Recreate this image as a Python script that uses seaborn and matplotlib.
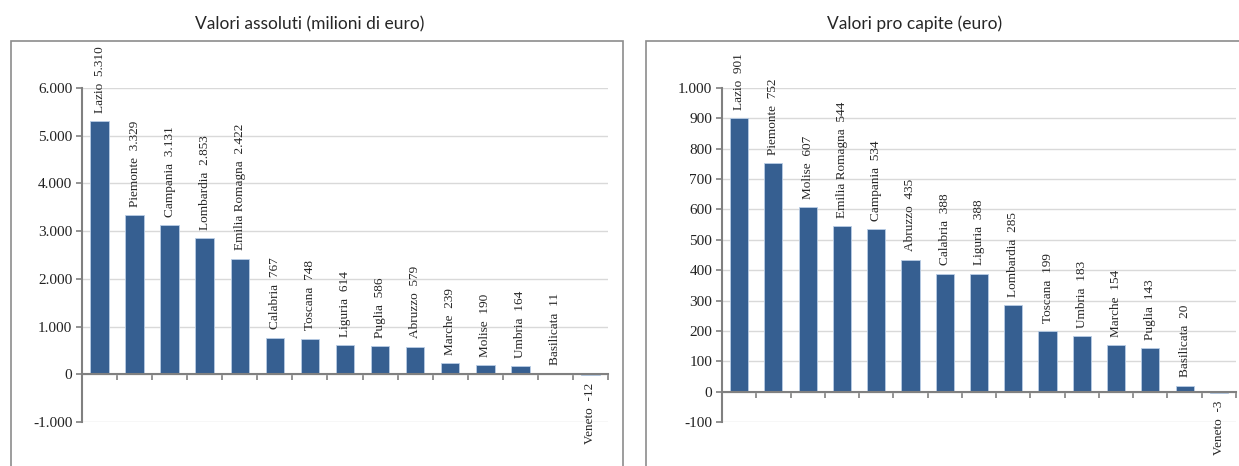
import numpy as np
import pandas as pd
import matplotlib.pyplot as plt
import seaborn as sns
from matplotlib.patches import Rectangle

sns.set_style("white")
plt.rcParams['font.family'] = ['Liberation Serif', 'DejaVu Serif']

# dati
regioni_abs = ['Lazio', 'Piemonte', 'Campania', 'Lombardia', 'Emilia Romagna', 'Calabria',
               'Toscana', 'Liguria', 'Puglia', 'Abruzzo', 'Marche', 'Molise', 'Umbria',
               'Basilicata', 'Veneto']
valori_abs = [5310, 3329, 3131, 2853, 2422, 767, 748, 614, 586, 579, 239, 190, 164, 11, -12]

regioni_pc = ['Lazio', 'Piemonte', 'Molise', 'Emilia Romagna', 'Campania', 'Abruzzo',
              'Calabria', 'Liguria', 'Lombardia', 'Toscana', 'Umbria', 'Marche', 'Puglia',
              'Basilicata', 'Veneto']
valori_pc = [901, 752, 607, 544, 534, 435, 388, 388, 285, 199, 183, 154, 143, 20, -3]

tick_abs = list(range(-1000, 6001, 1000))
tick_pc = list(range(-100, 1001, 100))

titoli = ['Valori assoluti (milioni di euro)', 'Valori pro capite (euro)']

blu = '#365F91'
grigio = '#808080'
serif = ['Liberation Serif', 'DejaVu Serif']


def fmt(v):
    return f"{v:,}".replace(',', '.')


fig = plt.figure(figsize=(12.39, 4.66), dpi=100)

# cornici dei due grafici (stile Excel)
for x0, x1 in [(11, 623), (646, 1260)]:
    fig.patches.append(Rectangle((x0 / 1239, -0.1), (x1 - x0) / 1239, 1.1 - 41 / 466,
                                 transform=fig.transFigure, fill=False,
                                 edgecolor='#8c8c8c', lw=1.2, clip_on=False))

ax1 = fig.add_axes([82 / 1239, 44 / 466, 526 / 1239, 334 / 466])
ax2 = fig.add_axes([722 / 1239, 44 / 466, 514 / 1239, 334 / 466])

pannelli = [(ax1, regioni_abs, valori_abs, tick_abs),
            (ax2, regioni_pc, valori_pc, tick_pc)]

for ax, regioni, valori, ticks in pannelli:
    df = pd.DataFrame({'regione': regioni, 'valore': valori})
    sns.barplot(data=df, x='regione', y='valore', color=blu, width=0.53,
                edgecolor='#b9cde5', linewidth=0.6, saturation=1, ax=ax, zorder=3)
    ax.set_ylim(ticks[0], ticks[-1])
    ax.set_xlim(-0.5, len(regioni) - 0.5)
    ax.set_yticks(ticks)
    ax.set_yticklabels([fmt(t) for t in ticks], fontsize=11, family=serif)
    ax.set_xticks(np.arange(-0.5, len(regioni), 1.0))
    ax.set_xticklabels([])
    ax.set_xlabel('')
    ax.set_ylabel('')
    ax.grid(axis='y', color='#d9d9d9', lw=1, zorder=0)
    for s in ['top', 'right']:
        ax.spines[s].set_visible(False)
    ax.spines['left'].set_color(grigio)
    ax.spines['left'].set_linewidth(1.5)
    ax.spines['bottom'].set_position(('data', 0))
    ax.spines['bottom'].set_color(grigio)
    ax.spines['bottom'].set_linewidth(1.5)
    ax.spines['bottom'].set_zorder(4)
    ax.tick_params(axis='y', direction='out', length=4, width=1.2, color=grigio, left=True, pad=3,
                   labelcolor='#222222')
    ax.tick_params(axis='x', direction='out', length=4, width=1.2, color=grigio, bottom=True)
    for i, (r, v) in enumerate(zip(regioni, valori)):
        if v >= 0:
            ax.annotate(f"{r}  {fmt(v)}", (i, v), xytext=(0, 6), textcoords='offset points',
                        rotation=90, ha='center', va='bottom', fontsize=9.5, family=serif,
                        annotation_clip=False)
        else:
            ax.annotate(f"{r}  {fmt(v)}", (i, v), xytext=(0, -6), textcoords='offset points',
                        rotation=90, ha='center', va='top', fontsize=9.5, family=serif,
                        annotation_clip=False)

fig.text(310 / 1239, 1 - 24 / 466, titoli[0], ha='center', va='center',
         fontsize=12.5, family=['Lato', 'DejaVu Sans'])
fig.text(915 / 1239, 1 - 24 / 466, titoli[1], ha='center', va='center',
         fontsize=12.5, family=['Lato', 'DejaVu Sans'])

fig.savefig('out.png', dpi=100)
